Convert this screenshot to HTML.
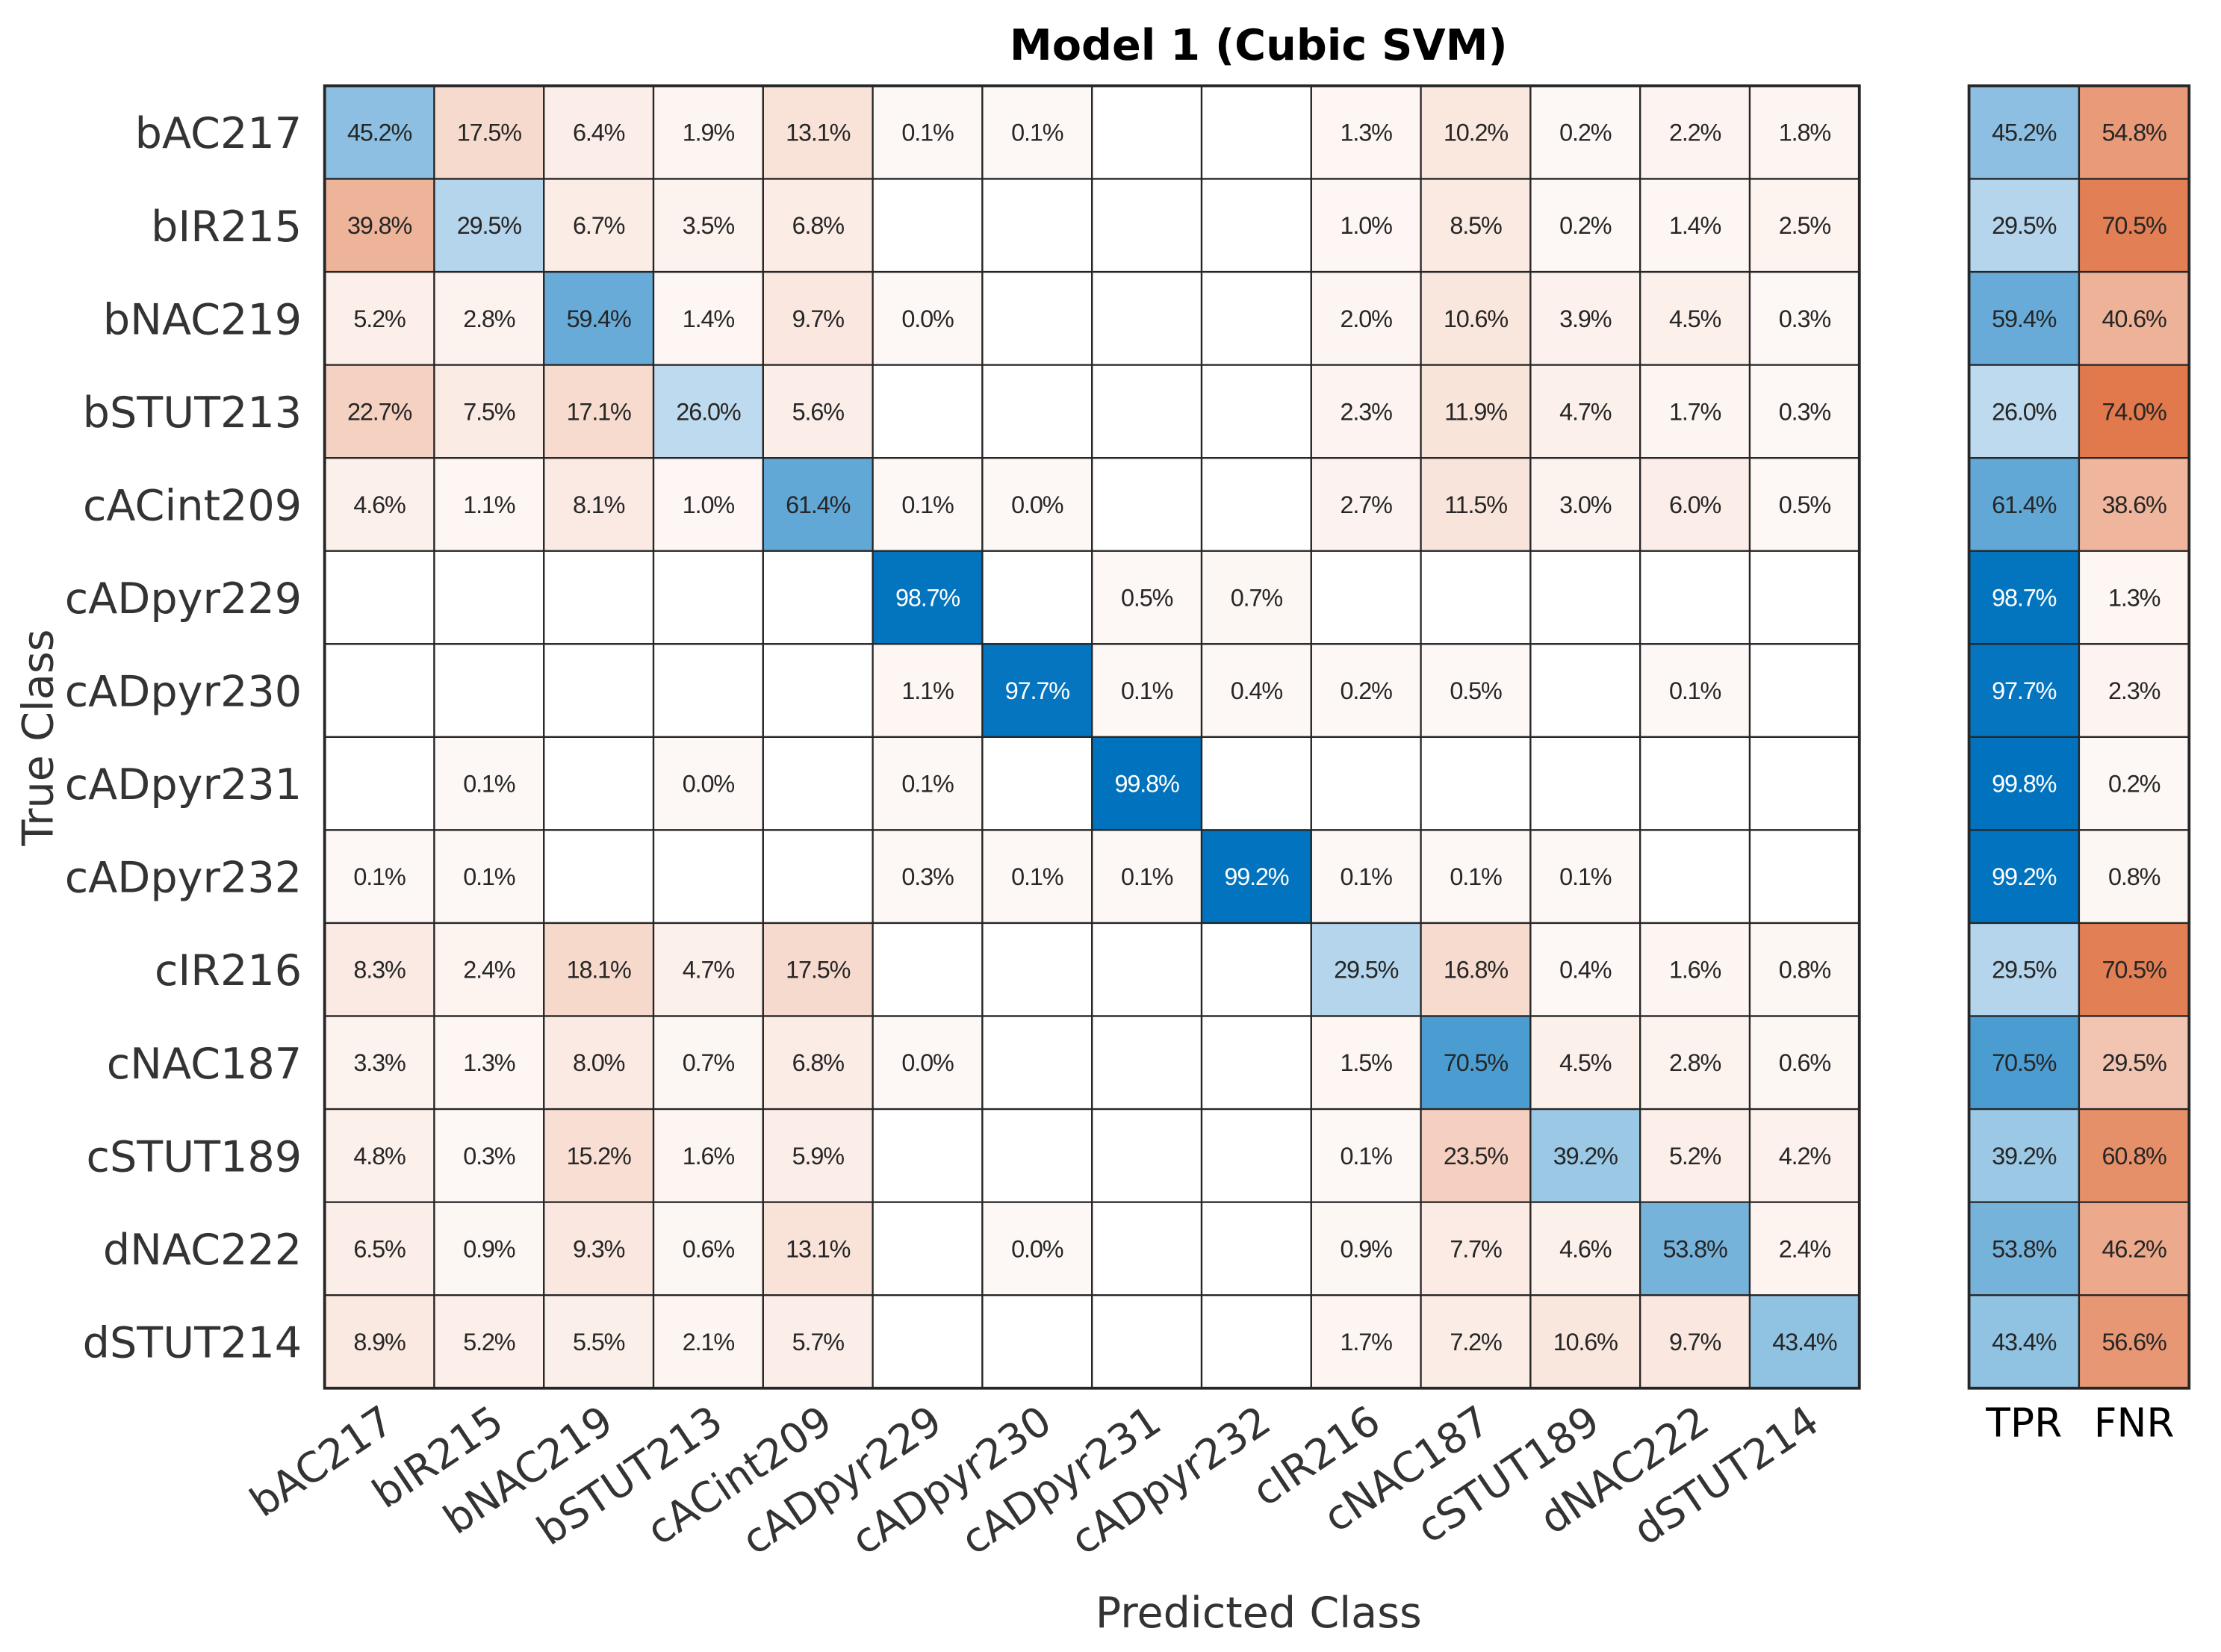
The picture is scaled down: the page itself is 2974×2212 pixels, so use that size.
<!DOCTYPE html>
<html><head><meta charset="utf-8"><style>
html,body{margin:0;padding:0;background:#fff;}
svg{display:block;font-family:"DejaVu Sans","Liberation Sans",sans-serif;}
</style></head><body>
<svg id="chart" width="2974" height="2212" viewBox="0 0 1560 1160.3" xmlns="http://www.w3.org/2000/svg">
<rect width="1560" height="1161" fill="#fff"/>
<text x="884" y="42" text-anchor="middle" font-size="30" font-weight="bold" fill="#000">Model 1 (Cubic SVM)</text>
<text x="884" y="1143" text-anchor="middle" font-size="30" fill="#333">Predicted Class</text>
<text transform="translate(37,518) rotate(-90)" text-anchor="middle" font-size="30" fill="#333">True Class</text>
<g id="cells"></g><g id="labels"></g><g id="summary"></g>
</svg>
<script>
const classes = ["bAC217","bIR215","bNAC219","bSTUT213","cACint209","cADpyr229","cADpyr230","cADpyr231","cADpyr232","cIR216","cNAC187","cSTUT189","dNAC222","dSTUT214"];
const _ = null;
const matrix = [
[45.2,17.5,6.4,1.9,13.1,0.1,0.1,_,_,1.3,10.2,0.2,2.2,1.8],
[39.8,29.5,6.7,3.5,6.8,_,_,_,_,1.0,8.5,0.2,1.4,2.5],
[5.2,2.8,59.4,1.4,9.7,0.0,_,_,_,2.0,10.6,3.9,4.5,0.3],
[22.7,7.5,17.1,26.0,5.6,_,_,_,_,2.3,11.9,4.7,1.7,0.3],
[4.6,1.1,8.1,1.0,61.4,0.1,0.0,_,_,2.7,11.5,3.0,6.0,0.5],
[_,_,_,_,_,98.7,_,0.5,0.7,_,_,_,_,_],
[_,_,_,_,_,1.1,97.7,0.1,0.4,0.2,0.5,_,0.1,_],
[_,0.1,_,0.0,_,0.1,_,99.8,_,_,_,_,_,_],
[0.1,0.1,_,_,_,0.3,0.1,0.1,99.2,0.1,0.1,0.1,_,_],
[8.3,2.4,18.1,4.7,17.5,_,_,_,_,29.5,16.8,0.4,1.6,0.8],
[3.3,1.3,8.0,0.7,6.8,0.0,_,_,_,1.5,70.5,4.5,2.8,0.6],
[4.8,0.3,15.2,1.6,5.9,_,_,_,_,0.1,23.5,39.2,5.2,4.2],
[6.5,0.9,9.3,0.6,13.1,_,0.0,_,_,0.9,7.7,4.6,53.8,2.4],
[8.9,5.2,5.5,2.1,5.7,_,_,_,_,1.7,7.2,10.6,9.7,43.4]
];
const tpr = [45.2,29.5,59.4,26.0,61.4,98.7,97.7,99.8,99.2,29.5,70.5,39.2,53.8,43.4];
const fnr = [54.8,70.5,40.6,74.0,38.6,1.3,2.3,0.2,0.8,70.5,29.5,60.8,46.2,56.6];
const summaryLabels = ["TPR","FNR"];

const NS="http://www.w3.org/2000/svg";
const L=228,R=1306,T=60.3,B=975;
const n=classes.length, cw=(R-L)/n, ch=(B-T)/n;
const SL=1383, sw=77.3;
const xPos=i=>L+i*cw, yPos=i=>T+i*ch;
function col(v,pos){
  let t=Math.min(1,v/100);
  if(!pos) t=Math.min(1,0.04+v/100);
  const c=pos?[0,114,189]:[217,83,25];
  return `rgb(${[0,1,2].map(k=>Math.round(255+(c[k]-255)*t)).join(',')})`;
}
function mk(tag,attrs,parent){const e=document.createElementNS(NS,tag);for(const k in attrs)e.setAttribute(k,attrs[k]);parent.appendChild(e);return e;}
const gc=document.getElementById('cells'), gl=document.getElementById('labels'), gs=document.getElementById('summary');
function cell(x,y,w,h,v,pos,parent){
  const r=mk('rect',{x:x,y:y,width:w,height:h,fill:v===null?'#fff':col(v,pos),stroke:'#262626','stroke-width':1.2},parent);
  
  
  if(v!==null){
    const t=mk('text',{x:x+w/2,y:y+h/2+6,'text-anchor':'middle','font-size':17,'font-family':'"Liberation Sans",sans-serif',fill:(v>=80?'#fff':'#262626'),'letter-spacing':'-0.6'},parent);
    
    
    t.textContent=v.toFixed(1)+'%';
  }
}
for(let i=0;i<n;i++){for(let j=0;j<n;j++){const v=matrix[i][j];cell(xPos(j),yPos(i),cw,ch,v,i===j,gc);}}
for(let i=0;i<n;i++){
  cell(SL,yPos(i),sw,ch,tpr[i],true,gs);
  cell(SL+sw,yPos(i),sw,ch,fnr[i],false,gs);
}
mk('rect',{x:L,y:T,width:R-L,height:B-T,fill:'none',stroke:'#262626','stroke-width':2},gc);
mk('rect',{x:SL,y:T,width:2*sw,height:B-T,fill:'none',stroke:'#262626','stroke-width':2},gs);
for(let i=0;i<n;i++){
  const t=mk('text',{x:212,y:yPos(i)+ch/2+11,'text-anchor':'end','font-size':30,fill:'#333'},gl);
  
  
  t.textContent=classes[i];
  const cx=xPos(i)+cw/2+12, cy=1003;
  const u=mk('text',{x:cx,y:cy,'text-anchor':'end','font-size':29,fill:'#333',transform:`rotate(-34 ${cx} ${cy})`},gl);
  
  
  u.textContent=classes[i];
}
summaryLabels.forEach((s,k)=>{
  const t=mk('text',{x:SL+sw*k+sw/2,y:1009,'text-anchor':'middle','font-size':28,fill:'#000'},gl);
  
  
  t.textContent=s;
});
</script>
</body></html>
